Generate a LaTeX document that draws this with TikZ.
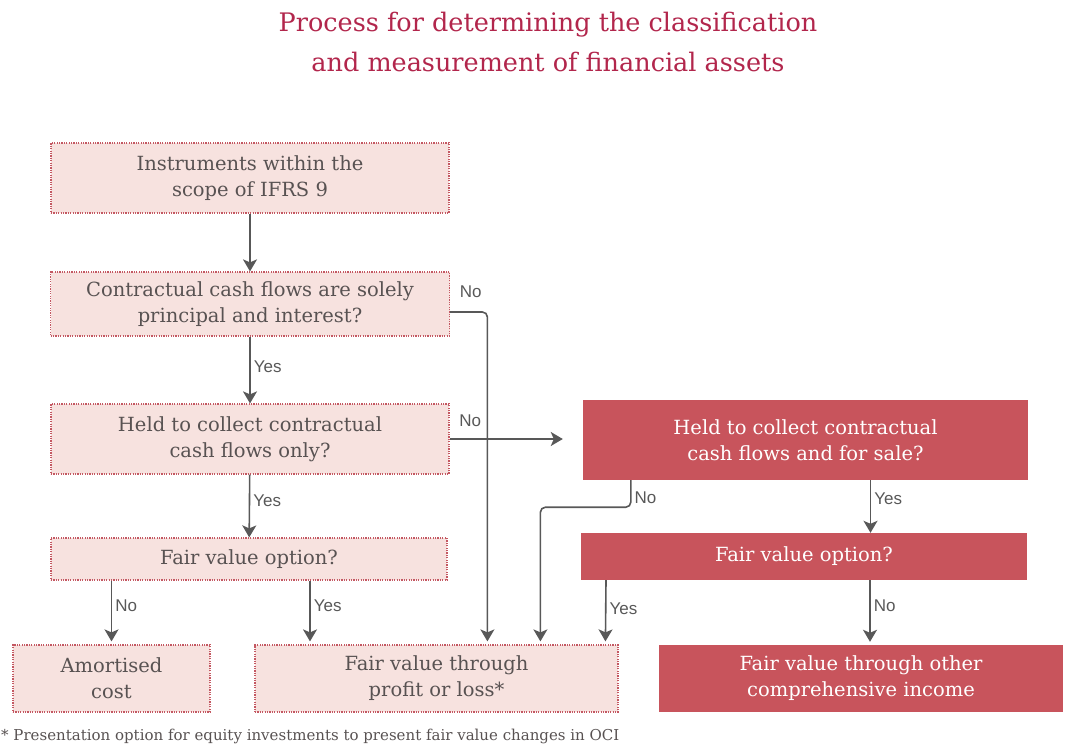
\documentclass[tikz,border=0pt]{standalone}
\usepackage{fontspec}
\setmainfont{DejaVu Serif}
\newfontfamily\labelfont{Liberation Sans}
\usetikzlibrary{arrows.meta,calc,positioning}

\definecolor{titlered}{RGB}{178,38,76}
\definecolor{boxpink}{RGB}{247,226,223}
\definecolor{boxedge}{RGB}{196,88,98}
\definecolor{boxred}{RGB}{200,84,92}
\definecolor{boxtext}{RGB}{88,82,82}
\definecolor{arrowgrey}{RGB}{88,88,88}

\newcommand*\boxfont{\fontsize{19.5}{26}\selectfont}
\tikzset{
  lightbox/.style 2 args={
    draw=boxedge,
    dash pattern=on 1.2pt off 1.2pt,
    line width=1.2pt,
    fill=boxpink,
    text=boxtext,
    font=\boxfont,
    rectangle,
    align=center,
    inner sep=0pt,
    minimum width=#1,
    minimum height=#2
  },
  darkbox/.style 2 args={
    fill=boxred,
    text=white,
    font=\boxfont,
    rectangle,
    align=center,
    inner sep=0pt,
    minimum width=#1,
    minimum height=#2
  },
  arrow/.style={
    draw=arrowgrey,
    line width=1.6pt,
    -{Stealth[length=12pt,width=14pt,inset=3pt]}
  },
  plain/.style={draw=arrowgrey, line width=1.2pt, rounded corners=5pt},
  lbl/.style={font=\labelfont\fontsize{17}{17}\selectfont, text=arrowgrey, inner sep=3pt}
}

\begin{document}
\begin{tikzpicture}[x=1pt,y=-1pt]

    \useasboundingbox (0,0) rectangle (1067,751);

    % Title.
    \node[text=titlered, font=\fontsize{25.5}{40}\selectfont, align=center] (title)
        at (548,42) {Process for determining the classification\\and measurement of financial assets};

    % Left column of questions.
    \node[lightbox={398}{70}] (scope) at (250,178) {Instruments within the\\scope of IFRS 9};
    \node[lightbox={399}{64}] (sppi) at (250,304) {Contractual cash flows are solely\\principal and interest?};
    \node[lightbox={398}{70}] (hold) at (250,439) {Held to collect contractual\\cash flows only?};
    \node[lightbox={396}{42}] (fvoA) at (249,559) {Fair value option?};

    % Right column of questions.
    \node[darkbox={445}{80}] (holdsale) at (805.5,440) {Held to collect contractual\\cash flows and for sale?};
    \node[darkbox={446}{47}] (fvoB) at (804,556.5) {Fair value option?};

    % Outcomes.
    \node[lightbox={197}{67}] (amort) at (111.5,678.5) {Amortised\\cost};
    \node[lightbox={363}{67}] (fvtpl) at (436.5,678.5) {Fair value through\\profit or loss*};
    \node[darkbox={404}{67}] (fvoci) at (861,678.5) {Fair value through other\\comprehensive income};

    % Where the arrows come into the fair value through profit or loss box.
    \coordinate (inA) at ([xshift=233pt]fvtpl.north west);
    \coordinate (inB) at ([xshift=286pt]fvtpl.north west);
    \coordinate (inC) at ([xshift=351pt]fvtpl.north west);

    % Connectors.
    \draw[arrow] (scope) -- (sppi);
    \draw[arrow] (sppi) -- node[lbl, right, pos=0.45] {Yes} (hold);
    \draw[arrow] (hold) -- node[lbl, right, pos=0.42] {Yes} (fvoA);
    \draw[arrow, shorten >=3pt] (amort.north |- fvoA.south) -- node[lbl, right, pos=0.4] {No} (amort.north);
    \draw[arrow, shorten >=3pt] ([xshift=61pt]fvoA.south) -- node[lbl, right, pos=0.4] {Yes} ([xshift=61pt]fvoA.south |- fvtpl.north);

    \draw[plain, arrow, shorten >=3pt] ([yshift=-8pt]sppi.east)
        node[lbl, anchor=south west, xshift=6pt, yshift=11pt] {No} -| (inA);
    \draw[arrow, shorten >=20pt] (hold.east)
        node[lbl, anchor=south west, xshift=6pt, yshift=9pt] {No} -- (hold.east -| holdsale.west);

    \draw[plain, arrow, shorten >=3pt] ([xshift=48pt]holdsale.south west)
        -- node[lbl, right, pos=0.65] {No} ++(0,27) -| (inB);
    \draw[arrow] ([xshift=65pt]holdsale.south) -- node[lbl, right, pos=0.35] {Yes} ([xshift=65pt]holdsale.south |- fvoB.north);
    \draw[arrow, shorten >=3pt] ([xshift=-198pt]fvoB.south) -- node[lbl, right, pos=0.45] {Yes} (inC);
    \draw[arrow, shorten >=3pt] ([xshift=66pt]fvoB.south) -- node[lbl, right, pos=0.4] {No} ([xshift=66pt]fvoB.south |- fvoci.north);

    % Footnote.
    \node[anchor=west, text=boxtext, font=\fontsize{15}{15}\selectfont, inner sep=0pt] (note)
        at (1,736) {* Presentation option for equity investments to present fair value changes in OCI};

\end{tikzpicture}
\end{document}
